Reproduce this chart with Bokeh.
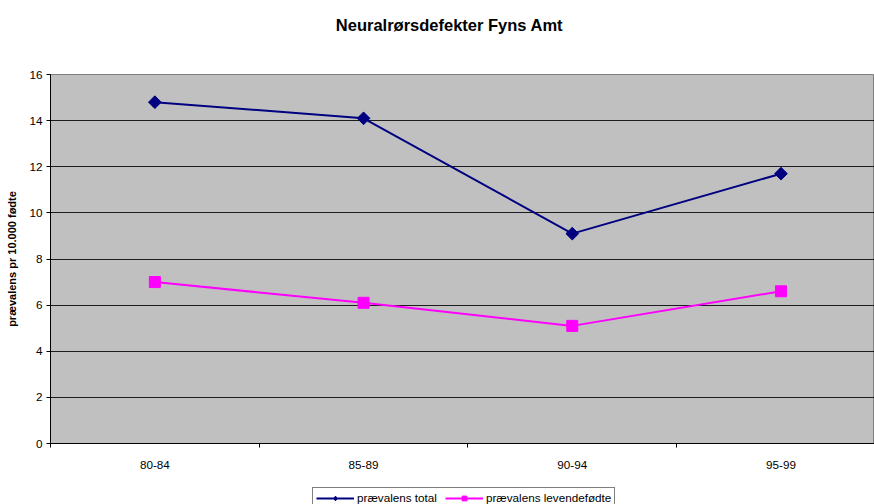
import math
from bokeh.plotting import figure
from bokeh.layouts import column
from bokeh.models import Range1d, FixedTicker, Legend, LegendItem, Label
from bokeh.embed import file_html
from bokeh.resources import INLINE

title = "Neuralrørsdefekter Fyns Amt"
y_label = "prævalens pr 10.000 fødte"
categories = ["80-84", "85-89", "90-94", "95-99"]
total = [14.8, 14.1, 9.1, 11.7]
levende = [7.0, 6.1, 5.1, 6.6]
series_names = ["prævalens total", "prævalens levendefødte"]
y_ticks = [0, 2, 4, 6, 8, 10, 12, 14, 16]

FONT = "Liberation Sans"
NAVY = "#000080"
MAGENTA = "#FF00FF"
TICK_FS = "11.7px"
DIAMOND_ANGLE = math.pi / 4
xs = [i + 0.5 for i in range(len(categories))]


def blank_strip(height):
    f = figure(width=874, height=height, output_backend="svg", toolbar_location=None,
               x_range=Range1d(0, 1), y_range=Range1d(100, 101),
               min_border_left=0, min_border_right=0, min_border_top=0, min_border_bottom=0)
    f.axis.visible = False
    f.grid.visible = False
    f.outline_line_color = None
    f.background_fill_color = "white"
    f.border_fill_color = "white"
    return f


# title strip
t = blank_strip(40)
t.add_layout(Label(x=399, y=16, x_units="screen", y_units="screen", text=title,
                   text_align="center", text_baseline="middle",
                   text_font=FONT, text_font_size="16.5px", text_font_style="bold",
                   text_color="black"))

# main chart
p = figure(width=874, height=440, output_backend="svg", toolbar_location=None,
           x_range=Range1d(0, 3.948), y_range=Range1d(0, 16),
           min_border_left=50, min_border_right=0, min_border_top=34, min_border_bottom=37)
p.background_fill_color = "#C0C0C0"
p.border_fill_color = "white"
p.outline_line_color = "#808080"
p.outline_line_width = 1

p.xaxis.ticker = FixedTicker(ticks=xs, minor_ticks=[float(i) for i in range(len(categories) + 1)])
p.xaxis.major_label_overrides = {x: c for x, c in zip(xs, categories)}
p.xaxis.major_tick_out = 0
p.xaxis.major_tick_in = 0
p.xaxis.minor_tick_out = 4
p.xaxis.minor_tick_in = 0
p.xaxis.minor_tick_line_color = "black"
p.xaxis.axis_line_color = "black"
p.xaxis.major_label_standoff = 13
p.xaxis.major_label_text_font = FONT
p.xaxis.major_label_text_font_size = TICK_FS
p.xaxis.major_label_text_color = "black"

p.yaxis.ticker = FixedTicker(ticks=y_ticks, minor_ticks=[])
p.yaxis.major_tick_out = 4
p.yaxis.major_tick_in = 0
p.yaxis.axis_line_color = "black"
p.yaxis.major_tick_line_color = "black"
p.yaxis.major_label_standoff = 4
p.yaxis.major_label_text_font = FONT
p.yaxis.major_label_text_font_size = TICK_FS
p.yaxis.major_label_text_color = "black"
p.yaxis.axis_label = y_label
p.yaxis.axis_label_text_font = FONT
p.yaxis.axis_label_text_font_size = "11px"
p.yaxis.axis_label_text_font_style = "bold"
p.yaxis.axis_label_text_color = "black"
p.yaxis.axis_label_standoff = 8

p.xgrid.visible = False
p.ygrid.grid_line_color = "black"
p.ygrid.grid_line_width = 1
p.ygrid.grid_line_alpha = 0.85

p.line(xs, total, line_color=NAVY, line_width=2)
p.scatter(xs, total, marker="square", angle=DIAMOND_ANGLE, size=9,
          fill_color=NAVY, line_color=NAVY)
p.line(xs, levende, line_color=MAGENTA, line_width=2)
p.scatter(xs, levende, marker="square", size=11, fill_color=MAGENTA, line_color=MAGENTA)

# legend strip (its glyphs lie outside its ranges; only the legend shows)
q = blank_strip(24)
ql1 = q.line(xs, total, line_color=NAVY, line_width=2)
qm1 = q.scatter(xs, total, marker="diamond", size=10, fill_color=NAVY, line_color=NAVY)
ql2 = q.line(xs, levende, line_color=MAGENTA, line_width=2)
qm2 = q.scatter(xs, levende, marker="square", size=8, fill_color=MAGENTA, line_color=MAGENTA)

legend = Legend(items=[LegendItem(label=series_names[0], renderers=[ql1, qm1]),
                       LegendItem(label=series_names[1], renderers=[ql2, qm2])],
                orientation="horizontal", location=(262, -4),
                border_line_color="black", border_line_width=1,
                background_fill_color="white", background_fill_alpha=1,
                label_text_font=FONT, label_text_font_size=TICK_FS,
                label_text_color="black", glyph_width=38, glyph_height=12,
                label_height=12, label_standoff=3, spacing=8, padding=3, margin=0)
q.add_layout(legend, "center")

layout = column(t, p, q, spacing=0)
open("out.html", "w").write(file_html(layout, INLINE))
